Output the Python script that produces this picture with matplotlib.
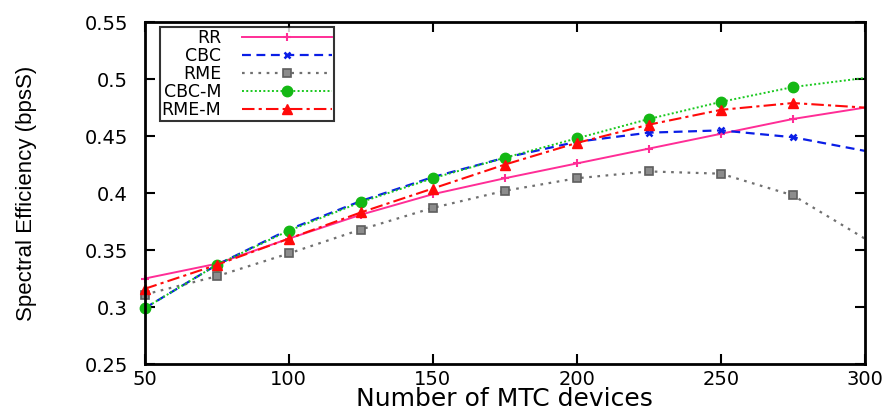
import numpy as np
import matplotlib
matplotlib.use('Agg')
import matplotlib.pyplot as plt

plt.rcParams['font.family'] = ['DejaVu Sans']

devices = [50, 75, 100, 125, 150, 175, 200, 225, 250, 275, 300]

rr     = [0.325, 0.338, 0.360, 0.381, 0.399, 0.413, 0.426, 0.439, 0.452, 0.465, 0.475]
cbc    = [0.299, 0.337, 0.368, 0.393, 0.414, 0.431, 0.445, 0.453, 0.455, 0.449, 0.437]
rme    = [0.311, 0.327, 0.347, 0.368, 0.387, 0.402, 0.413, 0.419, 0.417, 0.398, 0.360]
cbc_m  = [0.299, 0.337, 0.367, 0.392, 0.413, 0.431, 0.448, 0.465, 0.480, 0.493, 0.501]
rme_m  = [0.316, 0.337, 0.360, 0.383, 0.404, 0.425, 0.444, 0.460, 0.473, 0.479, 0.475]

fig = plt.figure(figsize=(8.88, 4.17), dpi=100)
ax = fig.add_axes([0.163, 0.127, 0.811, 0.820])

marks = slice(0, 10)
ax.plot(devices, rr, color='#ff2d96', lw=1.4, ls='-', marker='+', ms=6, mew=1.5,
        markevery=marks, label='RR', clip_on=False)
ax.plot(devices, cbc, color='#0a1ee6', lw=1.6, ls=(0, (4, 2.5)), marker='x', ms=5, mew=1.8,
        markevery=marks, label='CBC', clip_on=False)
ax.plot(devices, rme, color='#707070', lw=1.6, ls=(0, (1.2, 2.5)), marker='s', ms=6,
        mfc='#8c8c8c', mec='#5e5e5e', mew=1.2, markevery=marks, label='RME', clip_on=False)
ax.plot(devices, cbc_m, color='#19c81e', lw=1.4, ls=(0, (1, 1.2)), marker='o', ms=7.5,
        mfc='#14b814', mec='#14b814', markevery=marks, label='CBC-M', clip_on=False)
ax.plot(devices, rme_m, color='#ff0a0a', lw=1.5, ls=(0, (6, 2, 1.5, 2)), marker='^', ms=7,
        mfc='#ff0a0a', mec='#ff0a0a', markevery=marks, label='RME-M', clip_on=False)

ax.set_xlim(50, 300)
ax.set_ylim(0.25, 0.55)
ax.set_xticks([50, 100, 150, 200, 250, 300])
ax.set_yticks([0.25, 0.3, 0.35, 0.4, 0.45, 0.5, 0.55])
ax.set_yticklabels(['0.25', '0.3', '0.35', '0.4', '0.45', '0.5', '0.55'])
ax.tick_params(direction='in', length=7, width=1.5, top=True, right=True, labelsize=14)
ax.tick_params(axis='x', pad=4)
ax.tick_params(axis='y', pad=12)
for s in ax.spines.values():
    s.set_linewidth(2)

ax.set_xlabel('Number of MTC devices', fontsize=18, labelpad=-1)
ax.set_ylabel('Spectral Efficiency (bpsS)', fontsize=16, labelpad=34,
              family=['Liberation Sans Narrow', 'Liberation Sans'])

leg = ax.legend(loc='upper left', bbox_to_anchor=(0.021, 0.985), markerfirst=False,
                fontsize=12.5, frameon=True, fancybox=False, handlelength=5.2,
                borderpad=0.1, labelspacing=0.0, handletextpad=1.2, borderaxespad=0)
leg.get_frame().set_edgecolor('black')
leg.get_frame().set_linewidth(1.5)

fig.savefig('out.png', dpi=100)
